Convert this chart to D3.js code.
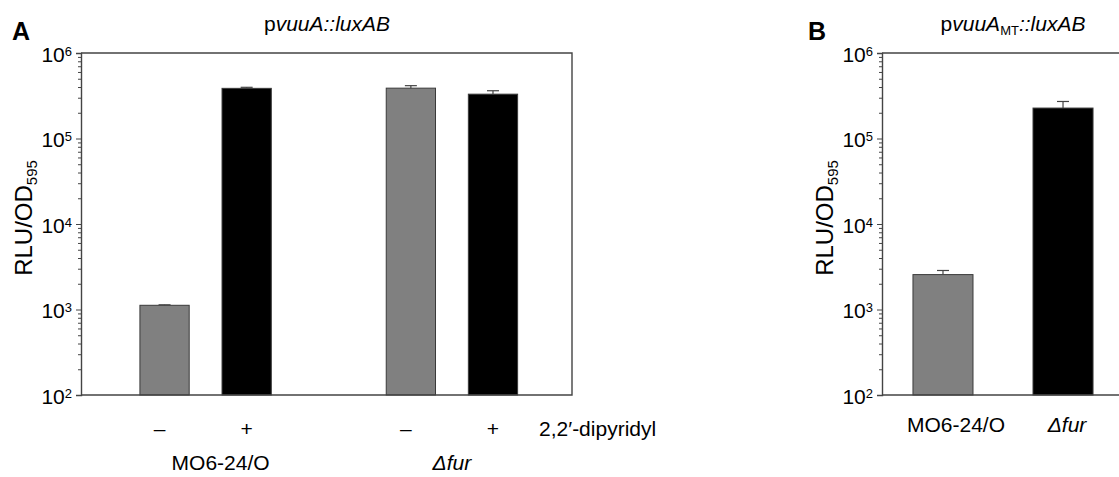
<!DOCTYPE html>
<html>
<head>
<meta charset="utf-8">
<script src="https://cdn.jsdelivr.net/npm/d3@7"></script>
<style>
  body { margin: 0; background: #fff; }
  svg { display: block; font-family: "Liberation Sans", Arial, sans-serif; }
</style>
</head>
<body>
<script>
// ============================================================
// Data
// ============================================================
var strainsA = ["MO6-24/O", "Δfur"];
var slotsA = ["MO6-24/O|–", "MO6-24/O|+", "gap", "Δfur|–", "Δfur|+"];
var barKeysA = ["MO6-24/O|–", "MO6-24/O|+", "Δfur|–", "Δfur|+"];
var dipyridylA = ["–", "+", "–", "+"];
var valuesA = [1120, 386000, 388000, 330000];
var errorsA = [15, 11000, 27000, 32000];

var strainsB = ["MO6-24/O", "Δfur"];
var valuesB = [2560, 227000];
var errorsB = [300, 44000];

var yTicks = [1e2, 1e3, 1e4, 1e5, 1e6];

var axisColor = "#444";
var fillFor = d3.scaleOrdinal().domain(["–", "+"]).range(["#808080", "#000000"]);
var fillForB = d3.scaleOrdinal().domain(strainsB).range(["#808080", "#000000"]);

var svg = d3.select("body").append("svg")
    .attr("width", 1119)
    .attr("height", 477);

// ============================================================
// Shared helpers
// ============================================================
function drawYAxis(g, y, left) {
    var minors = y.ticks().filter(function (v) {
        return yTicks.indexOf(v) < 0;
    });
    var minorAxis = g.append("g")
        .attr("transform", "translate(" + left + ",0)")
        .call(d3.axisLeft(y).tickValues(minors).tickSize(3).tickFormat(""));
    minorAxis.select(".domain").remove();
    minorAxis.selectAll("line").attr("stroke", axisColor);

    var major = g.append("g")
        .attr("transform", "translate(" + left + ",0)")
        .call(d3.axisLeft(y).tickValues(yTicks).tickSize(5).tickFormat(""));
    major.select(".domain").attr("stroke", axisColor).attr("stroke-width", 1.4);
    major.selectAll("line").attr("stroke", axisColor);

    var labels = major.selectAll(".tick").append("text")
        .attr("x", -9)
        .attr("dy", 8)
        .attr("text-anchor", "end")
        .attr("fill", "#000")
        .style("font-size", "21px");
    labels.append("tspan").text("10");
    labels.append("tspan")
        .attr("dy", -6)
        .style("font-size", "13px")
        .text(function (d) { return Math.round(Math.log10(d)); });
}

function drawYLabel(g, x, yMid) {
    var t = g.append("text")
        .attr("transform", "translate(" + x + "," + yMid + ") rotate(-90)")
        .attr("text-anchor", "middle")
        .style("font-size", "24px");
    t.append("tspan").text("RLU/OD");
    t.append("tspan").attr("dy", 5).style("font-size", "15px").text("595");
}

function drawErrors(g, data, xCenter, y) {
    var e = g.append("g").attr("stroke", axisColor).attr("stroke-width", 1.2);
    e.selectAll("line.v").data(data).enter().append("line")
        .attr("x1", xCenter).attr("x2", xCenter)
        .attr("y1", function (d) { return y(d.v); })
        .attr("y2", function (d) { return y(d.v + d.e); });
    e.selectAll("line.c").data(data).enter().append("line")
        .attr("x1", function (d) { return xCenter(d) - 6; })
        .attr("x2", function (d) { return xCenter(d) + 6; })
        .attr("y1", function (d) { return y(d.v + d.e); })
        .attr("y2", function (d) { return y(d.v + d.e); });
}

// ============================================================
// Panel A
// ============================================================
var gA = svg.append("g");
var xA = d3.scaleBand().domain(slotsA).range([81, 572])
    .paddingInner(0.4).paddingOuter(0.69).align(0.52);
var yA = d3.scaleLog().domain([1e2, 1e6]).range([395, 53]);

var dataA = barKeysA.map(function (k, i) {
    return { k: k, v: valuesA[i], e: errorsA[i], t: dipyridylA[i] };
});

gA.selectAll("rect.bar").data(dataA).enter().append("rect")
    .attr("class", "bar")
    .attr("x", function (d) { return xA(d.k); })
    .attr("width", xA.bandwidth())
    .attr("y", function (d) { return yA(d.v); })
    .attr("height", function (d) { return yA(1e2) - yA(d.v); })
    .attr("fill", function (d) { return fillFor(d.t); })
    .attr("stroke", "#3a3a3a")
    .attr("stroke-width", 1);

drawErrors(gA, dataA, function (d) { return xA(d.k) + xA.bandwidth() / 2; }, yA);

// frame
gA.append("path")
    .attr("d", "M81," + yA(1e6) + "H572V" + yA(1e2) + "H81")
    .attr("fill", "none")
    .attr("stroke", axisColor)
    .attr("stroke-width", 1.4);
drawYAxis(gA, yA, 81);
drawYLabel(gA, 32, 218);

// x labels
gA.selectAll("text.treat").data(dataA).enter().append("text")
    .attr("class", "treat")
    .attr("x", function (d) { return xA(d.k) + xA.bandwidth() / 2 + (d.t === "–" ? -5 : 0); })
    .attr("y", 436)
    .attr("text-anchor", "middle")
    .style("font-size", "21px")
    .text(function (d) { return d.t; });
gA.append("text")
    .attr("x", 539).attr("y", 436)
    .style("font-size", "21px")
    .text("2,2′-dipyridyl");
gA.selectAll("text.strain").data(strainsA).enter().append("text")
    .attr("class", "strain")
    .attr("x", function (s) {
        var c = (xA(s + "|–") + xA(s + "|+") + xA.bandwidth()) / 2;
        return s === "Δfur" ? c : c + 15;
    })
    .attr("y", 470)
    .attr("text-anchor", "middle")
    .style("font-size", "21px")
    .style("font-style", function (s) { return s === "Δfur" ? "italic" : "normal"; })
    .text(function (s) { return s; });

// title
var tA = gA.append("text").attr("x", 327).attr("y", 31)
    .attr("text-anchor", "middle").style("font-size", "21px");
tA.append("tspan").text("p");
tA.append("tspan").style("font-style", "italic").text("vuuA::luxAB");
gA.append("text").attr("x", 12).attr("y", 40)
    .style("font-size", "25px").style("font-weight", "bold").text("A");

// ============================================================
// Panel B
// ============================================================
var gB = svg.append("g");
var xB = d3.scaleBand().domain(strainsB).range([882, 1124])
    .paddingInner(0.5).paddingOuter(0.258);
var yB = d3.scaleLog().domain([1e2, 1e6]).range([395, 53]);

var dataB = strainsB.map(function (k, i) {
    return { k: k, v: valuesB[i], e: errorsB[i] };
});

gB.selectAll("rect.bar").data(dataB).enter().append("rect")
    .attr("class", "bar")
    .attr("x", function (d) { return xB(d.k); })
    .attr("width", xB.bandwidth())
    .attr("y", function (d) { return yB(d.v); })
    .attr("height", function (d) { return yB(1e2) - yB(d.v); })
    .attr("fill", function (d) { return fillForB(d.k); })
    .attr("stroke", "#3a3a3a")
    .attr("stroke-width", 1);

drawErrors(gB, dataB, function (d) { return xB(d.k) + xB.bandwidth() / 2; }, yB);

gB.append("path")
    .attr("d", "M1124," + yB(1e6) + "H882M1124," + yB(1e2) + "H882")
    .attr("fill", "none")
    .attr("stroke", axisColor)
    .attr("stroke-width", 1.4);
drawYAxis(gB, yB, 882);
drawYLabel(gB, 833, 218);

gB.selectAll("text.strain").data(strainsB).enter().append("text")
    .attr("class", "strain")
    .attr("x", function (s) { return xB(s) + xB.bandwidth() / 2 + (s === "Δfur" ? 4 : 13); })
    .attr("y", 432)
    .attr("text-anchor", "middle")
    .style("font-size", "21px")
    .style("font-style", function (s) { return s === "Δfur" ? "italic" : "normal"; })
    .text(function (s) { return s; });

var tB = gB.append("text").attr("x", 1013).attr("y", 31)
    .attr("text-anchor", "middle").style("font-size", "21px");
tB.append("tspan").text("p");
tB.append("tspan").style("font-style", "italic").text("vuuA");
tB.append("tspan").attr("dy", 4).style("font-size", "13px").text("MT");
tB.append("tspan").attr("dy", -4).style("font-style", "italic").text("::luxAB");
gB.append("text").attr("x", 808).attr("y", 40)
    .style("font-size", "25px").style("font-weight", "bold").text("B");
</script>
</body>
</html>
